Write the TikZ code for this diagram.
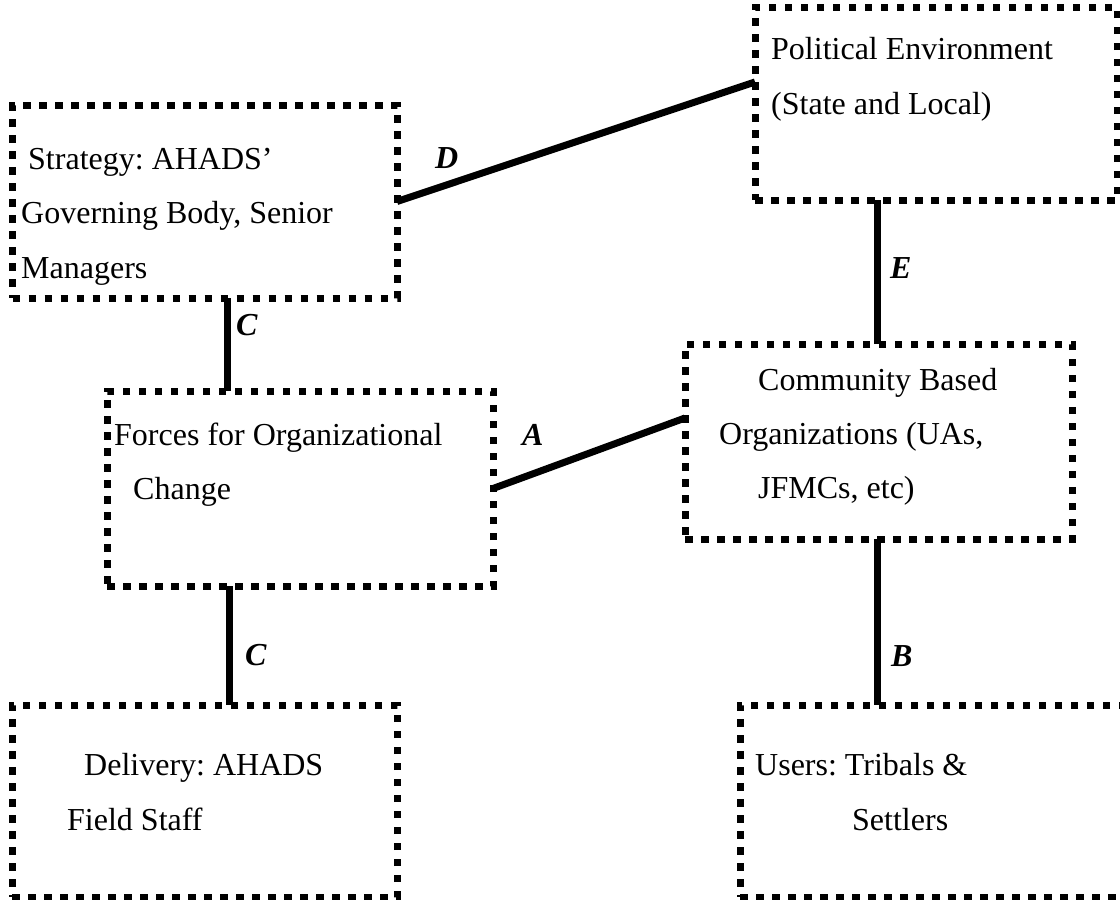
\documentclass[tikz,border=0pt]{standalone}
\usepackage{fontspec}
\setmainfont{Liberation Serif}
\frenchspacing
\begin{document}
\begin{tikzpicture}[x=1pt,y=-1pt,
  box/.style={draw, rectangle, line width=7pt, dash pattern=on 7.5pt off 8.5pt, inner sep=0pt, outer sep=0pt},
  link/.style={line width=7pt},
  txt/.style={anchor=base west, inner sep=0pt, font=\fontsize{32}{38}\selectfont},
  lab/.style={anchor=base west, inner sep=0pt, font=\fontsize{32}{38}\selectfont\bfseries\itshape}
]
\useasboundingbox (0,0) rectangle (1120,900);

% boxes
\node[box, minimum width=384.5pt, minimum height=193pt] (strat) at (204.75,201.5) {};
\node[box, minimum width=362pt, minimum height=193pt] (pol) at (936,103.5) {};
\node[box, minimum width=386pt, minimum height=195pt] (forces) at (300,488.5) {};
\node[box, minimum width=387pt, minimum height=195pt] (comm) at (878.5,441.5) {};
\node[box, minimum width=385pt, minimum height=192pt] (deliv) at (204.5,801) {};
\node[box, minimum width=385pt, minimum height=192pt] (users) at (932.5,801) {};

% texts
\node[txt] (t1) at (28,169) {Strategy: AHADS’};
\node[txt] (t2) at (21,223) {Governing Body, Senior};
\node[txt] (t3) at (21,278) {Managers};
\node[txt] (t4) at (771,59) {Political Environment};
\node[txt] (t5) at (771,114) {(State and Local)};
\node[txt] (t6) at (114,445) {Forces for Organizational};
\node[txt] (t7) at (133,499) {Change};
\node[txt] (t8) at (758,390) {Community Based};
\node[txt] (t9) at (719,444) {Organizations (UAs,};
\node[txt] (t10) at (758,498) {JFMCs, etc)};
\node[txt] (t11) at (84,775) {Delivery: AHADS};
\node[txt] (t12) at (67,830) {Field Staff};
\node[txt] (t13) at (755,775) {Users: Tribals \&};
\node[txt] (t14) at (852,830) {Settlers};

% connectors
\draw[link] (strat.east) -- ([yshift=21.5pt]pol.west);
\draw[link] (forces.east) -- ([yshift=23.5pt]comm.west);
\draw[link] ([xshift=23pt]strat.south) -- ([xshift=23pt]strat.south |- forces.north);
\draw[link] ([xshift=-71pt]forces.south) -- ([xshift=-71pt]forces.south |- deliv.north);
\draw[link] ([xshift=-1.5pt]comm.north) -- ([xshift=-1.5pt]comm.north |- pol.south);
\draw[link] ([xshift=-1.5pt]comm.south) -- ([xshift=-1.5pt]comm.south |- users.north);

% labels
\node[lab] (lD) at (435,168) {D};
\node[lab] (lC1) at (236,335) {C};
\node[lab] (lA) at (522,445) {A};
\node[lab] (lE) at (890,278) {E};
\node[lab] (lC2) at (245,665) {C};
\node[lab] (lB) at (891,666) {B};
\end{tikzpicture}
\end{document}
